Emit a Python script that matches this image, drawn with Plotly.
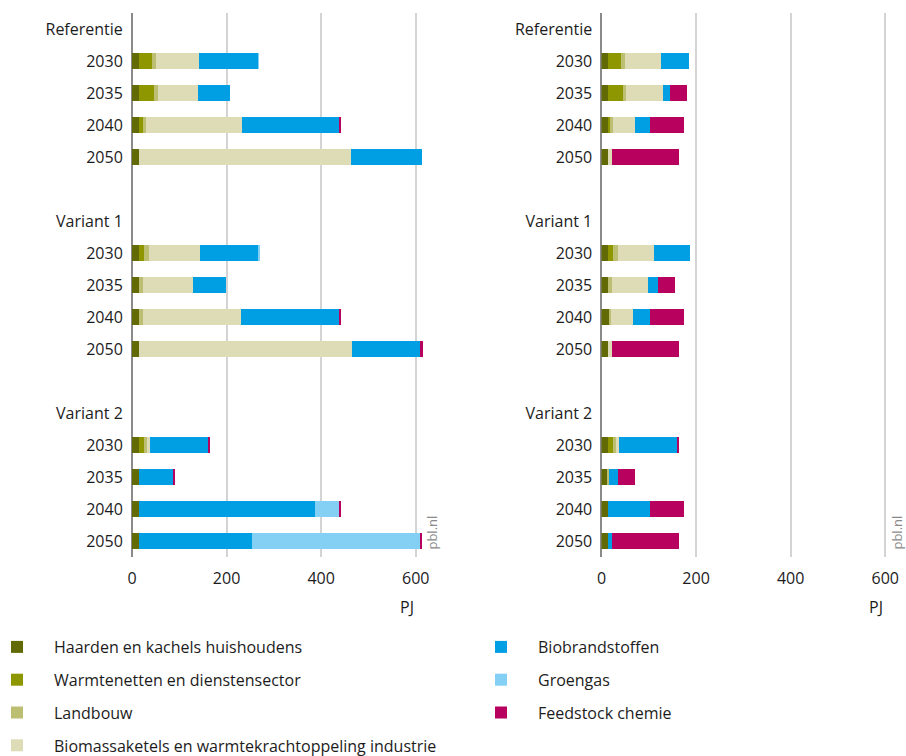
import plotly.graph_objects as go

# ---------------- data ----------------
groups = ["Referentie", "Variant 1", "Variant 2"]
years = ["2030", "2035", "2040", "2050"]

series_names = [
    "Haarden en kachels huishoudens",
    "Warmtenetten en dienstensector",
    "Landbouw",
    "Biomassaketels en warmtekrachtoppeling industrie",
    "Biobrandstoffen",
    "Groengas",
    "Feedstock chemie",
]
series_colors = ["#616a05", "#8f9700", "#bcbf72", "#dddcb6", "#009fe3", "#84d0f5", "#b8005f"]

# rows: Referentie 2030..2050, Variant 1 2030..2050, Variant 2 2030..2050  (PJ)
haarden_L = [14, 14, 14, 14, 14, 14, 14, 14, 14, 14, 14, 15]
warmte_L = [28, 32, 8.5, 0, 10.5, 0, 0, 0, 10.5, 0, 0, 0]
landbouw_L = [8.5, 8.5, 6.5, 0, 10.5, 8.5, 8.5, 0, 6.5, 0, 0, 0]
biomassa_L = [91, 85, 203, 449, 108, 106, 209, 451, 6.5, 0, 0, 0]
biobrand_L = [126, 68, 207, 150, 124, 70, 207, 146, 125, 74, 372, 238]
groengas_L = [1, 0, 0, 0, 2, 0, 0, 0, 0, 0, 53, 357]
feedstock_L = [0, 0, 2, 0, 0, 0, 2, 4, 2, 2, 2, 4]

haarden_R = [13.5, 13.5, 16, 13.5, 13.5, 13.5, 15.5, 13.5, 13.5, 13.5, 13.5, 13.5]
warmte_R = [27.5, 32, 1.5, 0, 10.5, 0, 0, 0, 10.5, 0, 0, 0]
landbouw_R = [8.5, 6.5, 6.5, 0, 10.5, 8.5, 4.5, 0, 6.5, 2, 0, 0]
biomassa_R = [76.5, 78.5, 47, 8.5, 76.5, 76.5, 46.5, 8.5, 6.5, 0, 0, 0]
biobrand_R = [60, 15, 32, 0, 76.5, 21, 36, 0, 125.5, 19, 89, 8.5]
groengas_R = [0, 0, 0, 0, 0, 0, 0, 0, 0, 0, 0, 0]
feedstock_R = [0, 36, 72, 142.5, 0, 36, 72, 142.5, 2, 36, 72, 142.5]

left_values = [haarden_L, warmte_L, landbouw_L, biomassa_L, biobrand_L, groengas_L, feedstock_L]
right_values = [haarden_R, warmte_R, landbouw_R, biomassa_R, biobrand_R, groengas_R, feedstock_R]

# ---------------- category axis ----------------
cat_keys, cat_text, row_keys = [], [], []
for gi, g in enumerate(groups):
    if gi > 0:
        cat_keys.append(f"blank{gi}")
        cat_text.append("")
    cat_keys.append(g)
    cat_text.append(g)
    for y in years:
        k = f"{g}|{y}"
        cat_keys.append(k)
        cat_text.append(y)
        row_keys.append(k)

FONT = "Open Sans"
TXT = "#1c1c1c"
FS = 16

fig = go.Figure()
for i, name in enumerate(series_names):
    leg = "legend" if i < 4 else "legend2"
    fig.add_trace(go.Bar(
        y=row_keys, x=left_values[i], orientation="h", name=name,
        marker=dict(color=series_colors[i], line=dict(width=0)),
        xaxis="x", yaxis="y", legend=leg, legendgroup=name,
        showlegend=True, width=0.52,
    ))
for i, name in enumerate(series_names):
    leg = "legend" if i < 4 else "legend2"
    fig.add_trace(go.Bar(
        y=row_keys, x=right_values[i], orientation="h", name=name,
        marker=dict(color=series_colors[i], line=dict(width=0)),
        xaxis="x2", yaxis="y2", legend=leg, legendgroup=name,
        showlegend=False, width=0.52,
    ))

xcommon = dict(range=[0, 622], tickvals=[0, 200, 400, 600], showgrid=True,
               gridcolor="#d4d4d4", gridwidth=2, zeroline=True, zerolinecolor="#8a8a8a",
               zerolinewidth=1.5, showline=False, ticks="outside", ticklen=7,
               tickcolor="rgba(0,0,0,0)", tickfont=dict(size=FS, color=TXT, family=FONT),
               automargin=False)
ycommon = dict(type="category", categoryorder="array", categoryarray=cat_keys,
               tickvals=cat_keys, ticktext=cat_text, range=[16.5, -0.5],
               showgrid=False, zeroline=False, showline=False, ticks="outside",
               ticklen=5, tickcolor="rgba(0,0,0,0)",
               tickfont=dict(size=FS, color=TXT, family=FONT), automargin=False)

legcommon = dict(xref="paper", yref="paper", xanchor="left", yanchor="top",
                 orientation="v", tracegroupgap=9, itemwidth=64,
                 font=dict(size=FS, color=TXT, family=FONT), bgcolor="rgba(0,0,0,0)")

fig.update_layout(
    width=906, height=756,
    margin=dict(l=132, r=10, t=13, b=199, autoexpand=False),
    paper_bgcolor="white", plot_bgcolor="white",
    barmode="stack", bargap=0.48,
    font=dict(family=FONT, size=FS, color=TXT),
    xaxis=dict(domain=[0, 0.385], anchor="y", **xcommon),
    xaxis2=dict(domain=[0.6145, 0.9995], anchor="y2", **xcommon),
    yaxis=dict(domain=[0, 1], anchor="x", **ycommon),
    yaxis2=dict(domain=[0, 1], anchor="x2", **ycommon),
    legend=dict(x=(-20 - 132) / 764, y=(557 - 630) / 544, **legcommon),
    legend2=dict(x=(464 - 132) / 764, y=(557 - 630) / 544, **legcommon),
    showlegend=True,
)

fig.add_annotation(text="PJ", xref="paper", yref="paper", x=(407 - 132) / 764, y=-50 / 544,
                   showarrow=False, font=dict(size=FS, color=TXT, family=FONT),
                   xanchor="center", yanchor="middle")
fig.add_annotation(text="PJ", xref="paper", yref="paper", x=(876 - 132) / 764, y=-50 / 544,
                   showarrow=False, font=dict(size=FS, color=TXT, family=FONT),
                   xanchor="center", yanchor="middle")
for px in (432, 897):
    fig.add_annotation(text="pbl.nl", xref="paper", yref="paper", x=(px - 132) / 764, y=0.01,
                       showarrow=False, textangle=-90,
                       font=dict(size=13, color="#8a8a8a", family=FONT),
                       xanchor="center", yanchor="bottom")

fig.write_html("out.html", config={"displayModeBar": False},
               post_script="document.body.style.margin='0';")
